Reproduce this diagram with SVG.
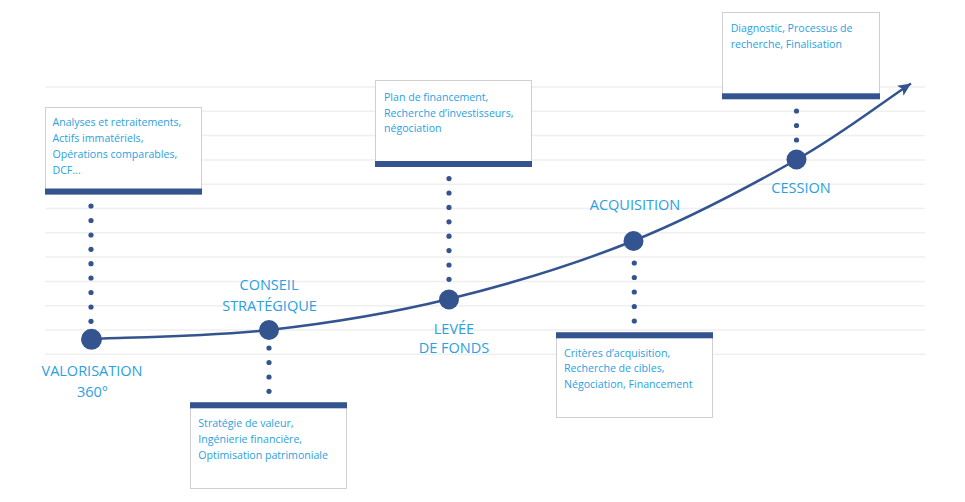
<svg xmlns="http://www.w3.org/2000/svg" width="965" height="502" viewBox="0 0 965 502">
<style>
.grid line{stroke:#efefef;stroke-width:1.5}
.box{fill:#fff;stroke:#cfcfcf;stroke-width:1}
.bar{fill:#34548f}
.bt{font-family:"Open Sans","DejaVu Sans",sans-serif;font-size:10.6px;fill:#2a9fe2}
.lbl{font-family:"Open Sans","DejaVu Sans",sans-serif;font-size:14.5px;fill:#2a9fe2;text-anchor:middle}
.node{fill:#34548f}
.dot{fill:#34548f}
.curve{fill:none;stroke:#34548f;stroke-width:2.5}
</style>
<defs>
<marker id="arr" markerUnits="userSpaceOnUse" markerWidth="16" markerHeight="14" refX="13" refY="6" orient="auto">
<path d="M0,0 L13,6 L0,12 L3,6 Z" fill="#34548f"/>
</marker>
</defs>
<rect width="965" height="502" fill="#fff"/>
<g class="grid">
<line x1="45" y1="87" x2="925" y2="87"/>
<line x1="45" y1="111.3" x2="925" y2="111.3"/>
<line x1="45" y1="135.6" x2="925" y2="135.6"/>
<line x1="45" y1="159.9" x2="925" y2="159.9"/>
<line x1="45" y1="184.2" x2="925" y2="184.2"/>
<line x1="45" y1="208.5" x2="925" y2="208.5"/>
<line x1="45" y1="232.8" x2="925" y2="232.8"/>
<line x1="45" y1="257.1" x2="925" y2="257.1"/>
<line x1="45" y1="281.4" x2="925" y2="281.4"/>
<line x1="45" y1="305.7" x2="925" y2="305.7"/>
<line x1="45" y1="330" x2="925" y2="330"/>
<line x1="45" y1="354.3" x2="925" y2="354.3"/>
</g>
<g id="connectors">
<path class="curve" marker-end="url(#arr)" d="M91,339 C120.7,337.5 209.3,336.7 269,330 C328.7,323.3 388.3,313.8 449,299 C509.7,284.2 575.2,264.2 633,241 C690.8,217.8 749.5,186.3 796,160 C842.5,133.7 880,104 911,83.5"/>
</g>
<g id="valorisation">
<rect class="box" x="45.5" y="107.5" width="156" height="87"/>
<rect class="bar" x="45" y="188.5" width="157" height="6"/>
<text class="bt"><tspan x="52.5" y="125.5">Analyses et retraitements,</tspan><tspan x="52.5" y="141.5">Actifs immatériels,</tspan><tspan x="52.5" y="157.5">Opérations comparables,</tspan><tspan x="52.5" y="173.5">DCF...</tspan></text>
<g class="dot"><circle cx="91" cy="206" r="2.6"/><circle cx="91" cy="220.5" r="2.6"/><circle cx="91" cy="235" r="2.6"/><circle cx="91" cy="249.3" r="2.6"/><circle cx="91" cy="263.7" r="2.6"/><circle cx="91" cy="278" r="2.6"/><circle cx="91" cy="292.5" r="2.6"/><circle cx="91" cy="307" r="2.6"/><circle cx="91" cy="321.3" r="2.6"/></g>
<circle class="node" cx="91.5" cy="339.3" r="10.5"/>
<text class="lbl"><tspan x="92" y="376">VALORISATION</tspan><tspan x="92.5" y="397">360°</tspan></text>
</g>
<g id="conseil">
<circle class="node" cx="269" cy="330" r="10"/>
<g class="dot"><circle cx="269" cy="348" r="2.6"/><circle cx="269" cy="362.5" r="2.6"/><circle cx="269" cy="377" r="2.6"/><circle cx="269" cy="391.3" r="2.6"/></g>
<text class="lbl"><tspan x="269" y="290">CONSEIL</tspan><tspan x="269.5" y="311">STRATÉGIQUE</tspan></text>
<rect class="box" x="190.5" y="402.5" width="156" height="86"/>
<rect class="bar" x="190" y="402.3" width="157" height="6"/>
<text class="bt"><tspan x="198.3" y="427.3">Stratégie de valeur,</tspan><tspan x="198.3" y="443">Ingénierie financière,</tspan><tspan x="198.3" y="459">Optimisation patrimoniale</tspan></text>
</g>
<g id="levee">
<rect class="box" x="375.5" y="80.5" width="156" height="86"/>
<rect class="bar" x="375" y="161" width="157" height="6"/>
<text class="bt"><tspan x="384" y="101">Plan de financement,</tspan><tspan x="384" y="116.7">Recherche d’investisseurs,</tspan><tspan x="384" y="132">négociation</tspan></text>
<g class="dot"><circle cx="449" cy="178.6" r="2.6"/><circle cx="449" cy="193" r="2.6"/><circle cx="449" cy="207.4" r="2.6"/><circle cx="449" cy="221.8" r="2.6"/><circle cx="449" cy="236.2" r="2.6"/><circle cx="449" cy="250.6" r="2.6"/><circle cx="449" cy="265" r="2.6"/><circle cx="449" cy="279.3" r="2.6"/></g>
<circle class="node" cx="449" cy="299.5" r="10"/>
<text class="lbl"><tspan x="454" y="334">LEVÉE</tspan><tspan x="454" y="353.3">DE FONDS</tspan></text>
</g>
<g id="acquisition">
<text class="lbl" x="635" y="210">ACQUISITION</text>
<circle class="node" cx="633.5" cy="241" r="10"/>
<g class="dot"><circle cx="634.3" cy="263" r="2.6"/><circle cx="634.3" cy="277.5" r="2.6"/><circle cx="634.3" cy="292" r="2.6"/><circle cx="634.3" cy="306.5" r="2.6"/><circle cx="634.3" cy="321" r="2.6"/></g>
<rect class="box" x="556.5" y="332.5" width="156" height="85"/>
<rect class="bar" x="556" y="332.3" width="157" height="6"/>
<text class="bt"><tspan x="564" y="356.7">Critères d’acquisition,</tspan><tspan x="564" y="372.3">Recherche de cibles,</tspan><tspan x="564" y="388.3">Négociation, Financement</tspan></text>
</g>
<g id="cession">
<rect class="box" x="722.5" y="12.5" width="157" height="86"/>
<rect class="bar" x="722" y="93.3" width="158" height="6"/>
<text class="bt"><tspan x="730.7" y="32.3">Diagnostic, Processus de</tspan><tspan x="730.7" y="48.3">recherche, Finalisation</tspan></text>
<g class="dot"><circle cx="796.5" cy="111" r="2.6"/><circle cx="796.5" cy="125.5" r="2.6"/><circle cx="796.5" cy="140" r="2.6"/></g>
<circle class="node" cx="796.5" cy="159.5" r="10"/>
<text class="lbl" x="801" y="193.3">CESSION</text>
</g>
</svg>
